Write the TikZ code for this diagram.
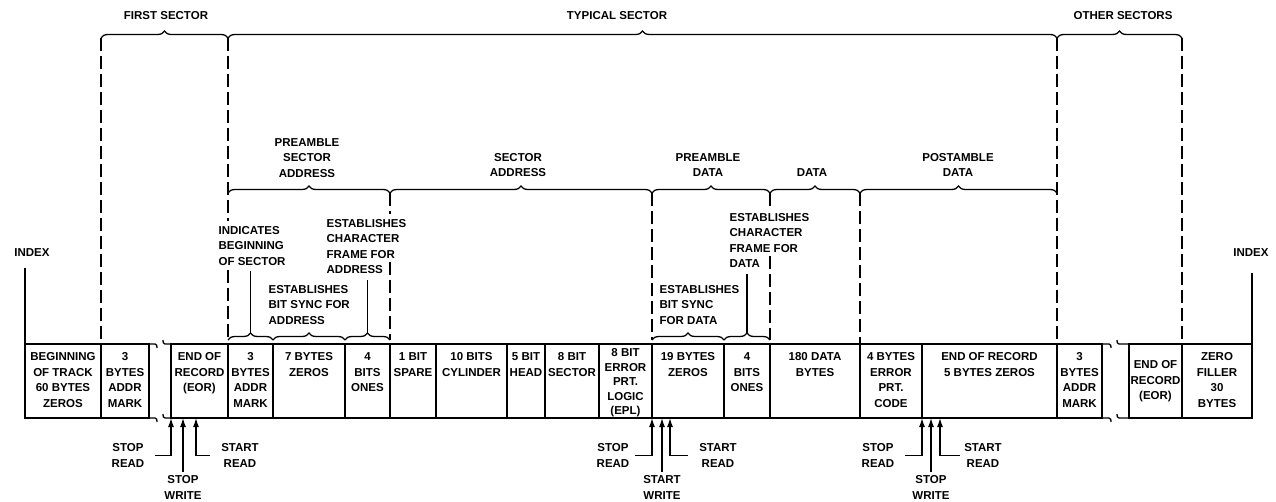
\documentclass[tikz,border=0pt]{standalone}
\usepackage{fontspec}
\setmainfont{Liberation Sans}
\usetikzlibrary{positioning,arrows.meta,decorations.pathreplacing}

\begin{document}
\begin{tikzpicture}[x=1pt,y=-1pt,font=\fontsize{11.5}{15.5}\selectfont\bfseries,
  >={Latex[length=9pt,width=6pt]},line width=1.3pt,
  cell/.style={draw,line width=1.4pt,inner sep=0pt,outer sep=0pt,minimum height=74pt},
  celltxt/.style={anchor=north,yshift=-8pt,inner sep=0pt,align=center},
  note/.style={anchor=north west,inner sep=0pt,align=left},
  title/.style={inner sep=0pt,align=center},
  rw/.style={inner sep=0pt,align=center},
  brc/.style={decorate,decoration={brace,amplitude=7pt}},
  secline/.style={dash pattern=on 13pt off 5pt,line width=1.6pt}]
  \useasboundingbox (0,0) rectangle (1276,502);

  % the track
  \node[cell,minimum width=76pt] (bot) at (63,381) {};
  \node[cell,minimum width=48pt,right=0pt of bot] (am1) {};
  \node[cell,minimum width=57pt,right=22pt of am1] (eor1) {};
  \node[cell,minimum width=45pt,right=0pt of eor1] (am2) {};
  \node[cell,minimum width=72pt,right=0pt of am2] (z7) {};
  \node[cell,minimum width=45pt,right=0pt of z7] (on1) {};
  \node[cell,minimum width=46pt,right=0pt of on1] (spare) {};
  \node[cell,minimum width=71pt,right=0pt of spare] (cyl) {};
  \node[cell,minimum width=38pt,right=0pt of cyl] (head) {};
  \node[cell,minimum width=54pt,right=0pt of head] (sect) {};
  \node[cell,minimum width=53pt,right=0pt of sect] (epl) {};
  \node[cell,minimum width=72pt,right=0pt of epl] (z19) {};
  \node[cell,minimum width=46pt,right=0pt of z19] (on2) {};
  \node[cell,minimum width=90pt,right=0pt of on2] (dat) {};
  \node[cell,minimum width=62pt,right=0pt of dat] (ecc) {};
  \node[cell,minimum width=135pt,right=0pt of ecc] (eor2) {};
  \node[cell,minimum width=45pt,right=0pt of eor2] (am3) {};
  \node[cell,minimum width=53pt,right=27pt of am3] (eor3) {};
  \node[cell,minimum width=70pt,right=0pt of eor3] (fill) {};

  \node[celltxt] (botT) at (bot.north) {BEGINNING\\OF TRACK\\60 BYTES\\ZEROS};
  \node[celltxt] (am1T) at (am1.north) {3\\BYTES\\ADDR\\MARK};
  \node[celltxt] (eor1T) at (eor1.north) {END OF\\RECORD\\(EOR)};
  \node[celltxt] (am2T) at (am2.north) {3\\BYTES\\ADDR\\MARK};
  \node[celltxt] (z7T) at (z7.north) {7 BYTES\\ZEROS};
  \node[celltxt] (on1T) at (on1.north) {4\\BITS\\ONES};
  \node[celltxt] (spareT) at (spare.north) {1 BIT\\SPARE};
  \node[celltxt] (cylT) at (cyl.north) {10 BITS\\CYLINDER};
  \node[celltxt] (headT) at (head.north) {5 BIT\\HEAD};
  \node[celltxt] (sectT) at (sect.north) {8 BIT\\SECTOR};
  \node[celltxt,yshift=4pt,font=\fontsize{11.5}{14.5}\selectfont\bfseries] (eplT) at (epl.north) {8 BIT\\ERROR\\PRT.\\LOGIC\\(EPL)};
  \node[celltxt] (z19T) at (z19.north) {19 BYTES\\ZEROS};
  \node[celltxt] (on2T) at (on2.north) {4\\BITS\\ONES};
  \node[celltxt] (datT) at (dat.north) {180 DATA\\BYTES};
  \node[celltxt] (eccT) at (ecc.north) {4 BYTES\\ERROR\\PRT.\\CODE};
  \node[celltxt] (eor2T) at (eor2.north) {END OF RECORD\\5 BYTES ZEROS};
  \node[celltxt] (am3T) at (am3.north) {3\\BYTES\\ADDR\\MARK};
  \node[celltxt,yshift=-8pt] (eor3T) at (eor3.north) {END OF\\RECORD\\(EOR)};
  \node[celltxt] (fillT) at (fill.north) {ZERO\\FILLER\\30\\BYTES};

  % breaks in the track
  \draw (am1.north east) -- (155,344) .. controls (157,344) and (157,346) .. (157,348);
  \draw (163,340) .. controls (163,342) and (163,344) .. (165,344) -- (eor1.north west);
  \draw (am1.south east) -- (155,418) .. controls (157,418) and (157,420) .. (157,422);
  \draw (163,414) .. controls (163,416) and (163,418) .. (165,418) -- (eor1.south west);
  \draw (am3.north east) -- (1109,344) .. controls (1111,344) and (1111,346) .. (1111,348);
  \draw (1117,340) .. controls (1117,342) and (1117,344) .. (1119,344) -- (eor3.north west);
  \draw (am3.south east) -- (1109,418) .. controls (1111,418) and (1111,420) .. (1111,422);
  \draw (1117,414) .. controls (1117,416) and (1117,418) .. (1119,418) -- (eor3.south west);

  % sectors
  \coordinate (t1) at (101,38);
  \coordinate (t2) at (228,38);
  \coordinate (t3) at (1057,38);
  \coordinate (t4) at (1182,38);
  \node[title] (fs) at (166,16) {FIRST SECTOR};
  \node[title] (ts) at (617,16) {TYPICAL SECTOR};
  \node[title] (os) at (1123,16) {OTHER SECTORS};
  \draw[brc] (t1) -- (t2);
  \draw[brc] (t2) -- (t3);
  \draw[brc] (t3) -- (t4);

  % fields of the typical sector
  \coordinate (m1) at (228,193);
  \coordinate (m2) at (390,193);
  \coordinate (m3) at (652,193);
  \coordinate (m4) at (770,193);
  \coordinate (m5) at (860,193);
  \coordinate (m6) at (1057,193);
  \node[title] (psa) at (307,158) {PREAMBLE\\SECTOR\\ADDRESS};
  \node[title] (sa) at (518,165) {SECTOR\\ADDRESS};
  \node[title] (pd) at (708,165) {PREAMBLE\\DATA};
  \node[title] (dt) at (812,173) {DATA};
  \node[title] (pod) at (958,165) {POSTAMBLE\\DATA};
  \draw[brc] (m1) -- (m2);
  \draw[brc] (m2) -- (m3);
  \draw[brc] (m3) -- (m4);
  \draw[brc] (m4) -- (m5);
  \draw[brc] (m5) -- (m6);

  % preambles
  \coordinate[yshift=4pt] (s1) at (am2.north west);
  \coordinate[yshift=4pt] (s2) at (z7.north west);
  \coordinate[yshift=4pt] (s3) at (on1.north west);
  \coordinate[yshift=4pt] (s4) at (spare.north west);
  \coordinate[yshift=4pt] (s5) at (z19.north west);
  \coordinate[yshift=4pt] (s6) at (on2.north west);
  \coordinate[yshift=4pt] (s7) at (dat.north west);
  \draw[brc] (s1) -- (s2);
  \draw[brc] (s2) -- (s3);
  \draw[brc] (s3) -- (s4);
  \draw[brc] (s5) -- (s6);
  \draw[brc] (s6) -- (s7);
  \coordinate[yshift=11pt] (k1) at (am2.north);
  \coordinate[yshift=11pt] (k2) at (on1.north);
  \coordinate[yshift=11pt] (k3) at (on2.north);

  \node[note] (ibs) at (218,225.5) {INDICATES\\BEGINNING\\OF SECTOR};
  \node[note] (cfa) at (326,218.5) {ESTABLISHES\\CHARACTER\\FRAME FOR\\ADDRESS};
  \node[note] (bsa) at (268,284.5) {ESTABLISHES\\BIT SYNC FOR\\ADDRESS};
  \node[note] (cfd) at (729,212.5) {ESTABLISHES\\CHARACTER\\FRAME FOR\\DATA};
  \node[note] (bsd) at (659,284.5) {ESTABLISHES\\BIT SYNC\\FOR DATA};
  \draw[shorten <=5pt] (ibs.south -| k1) -- (k1);
  \draw[shorten <=6pt] (cfa.south -| k2) -- (k2);
  \draw[shorten <=6pt] (cfd.south -| k3) -- (k3);
  \coordinate[yshift=12pt] (g1) at (cfa.south -| m2);
  \coordinate[yshift=12pt] (g2) at (cfd.south -| m4);

  \draw[secline] (t1) -- (am1.north west);
  \draw[secline,shorten >=4pt] (t2) -- (ibs.north -| t2);
  \draw[secline,shorten <=4pt] (ibs.south -| t2) -- (s1);
  \draw[secline,shorten >=4pt] (m2) -- (cfa.north -| m2);
  \draw[secline] (g1) -- (s4);
  \draw[secline] (m3) -- (s5);
  \draw[secline,shorten >=4pt] (m4) -- (cfd.north -| m4);
  \draw[secline] (g2) -- (s7);
  \draw[secline] (m5) -- (dat.north east);
  \draw[secline] (t3) -- (am3.north west);
  \draw[secline] (t4) -- (fill.north west);

  % index marks
  \node[title] (ixl) at (32,253) {INDEX};
  \node[title] (ixr) at (1251,253) {INDEX};
  \draw[shorten <=10pt] (ixl.south -| bot.north west) -- (bot.north west);
  \draw[shorten <=15pt] (ixr.south -| fill.north east) -- (fill.north east);

  % read and write points
  \coordinate (q1) at (eor1.south west);
  \coordinate[xshift=12pt] (q2) at (eor1.south west);
  \coordinate[xshift=25pt] (q3) at (eor1.south west);
  \coordinate (q4) at (z19.south west);
  \coordinate[xshift=10pt] (q5) at (z19.south west);
  \coordinate[xshift=18pt] (q6) at (z19.south west);
  \coordinate (q7) at (eor2.south west);
  \coordinate[xshift=9pt] (q8) at (eor2.south west);
  \coordinate[xshift=18pt] (q9) at (eor2.south west);

  \node[rw] (srd1) at (128,455.5) {STOP\\READ};
  \node[rw] (swr1) at (183,487.5) {STOP\\WRITE};
  \node[rw] (strd1) at (240,455.5) {START\\READ};
  \node[rw] (srd2) at (613,455.5) {STOP\\READ};
  \node[rw] (stw2) at (662,487.5) {START\\WRITE};
  \node[rw] (strd2) at (718,455.5) {START\\READ};
  \node[rw] (srd3) at (878,455.5) {STOP\\READ};
  \node[rw] (swr3) at (931,487.5) {STOP\\WRITE};
  \node[rw] (strd3) at (983,455.5) {START\\READ};

  \draw[->,shorten <=10pt] (srd1.east) -| (q1);
  \draw[->,shorten <=3pt] (swr1.north) -- (q2);
  \draw[->,shorten <=11pt] (strd1.west) -| (q3);
  \draw[->,shorten <=5pt] (srd2.east) -| (q4);
  \draw[->,shorten <=3pt] (stw2.north) -- (q5);
  \draw[->,shorten <=11pt] (strd2.west) -| (q6);
  \draw[->,shorten <=10pt] (srd3.east) -| (q7);
  \draw[->,shorten <=3pt] (swr3.north) -- (q8);
  \draw[->,shorten <=4pt] (strd3.west) -| (q9);
\end{tikzpicture}
\end{document}
